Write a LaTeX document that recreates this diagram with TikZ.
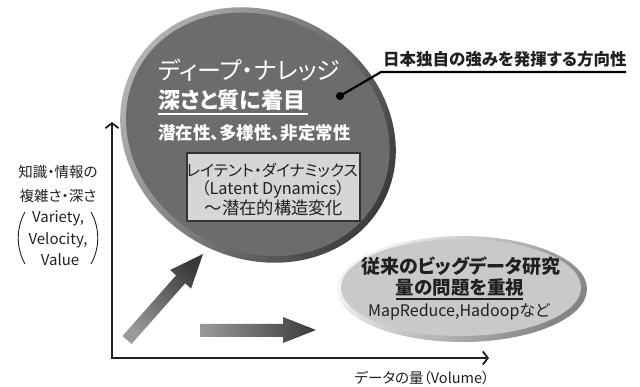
\documentclass[tikz,border=0pt]{standalone}
\usepackage{fontspec}
\setmainfont{Noto Sans CJK JP}[RawFeature=+palt]
\usetikzlibrary{arrows.meta}
\newcommand\fsz[1]{\fontsize{#1}{#1}\selectfont}
\definecolor{bigin}{HTML}{6C6C6C}
\definecolor{biglight}{HTML}{B8B8B8}
\definecolor{bigdark}{HTML}{3A3A3A}
\definecolor{smin}{HTML}{C9C9C9}
\definecolor{smlight}{HTML}{F2F2F2}
\definecolor{smdark}{HTML}{858585}
\definecolor{boxfill}{HTML}{D6D6D6}
\definecolor{boxline}{HTML}{333333}
\definecolor{axisc}{HTML}{231F20}
\definecolor{arrlight}{HTML}{9A9A9A}
\definecolor{arrdark}{HTML}{3A3A3A}
\begin{document}
\begin{tikzpicture}[x=1pt,y=-1pt,
  wt/.style={text=white, inner sep=0pt},
  bt/.style={text=axisc, inner sep=0pt},
  barb/.tip={Straight Barb[length=5pt,width=13pt]}]
\useasboundingbox (0,0) rectangle (640,387);
% axes
\coordinate (Ytop) at (112,122);
\coordinate (O) at (112,358);
\coordinate (Xend) at (489,358);
\draw[line width=1.8pt, color=axisc, barb-barb] (Ytop) -- (O) -- (Xend);
% small ellipse
\coordinate (sc) at (462,289);
\shade[top color=smlight, bottom color=smdark, shading angle=50] (sc) ellipse [x radius=125pt, y radius=53pt];
\fill[smin] (461,287.5) ellipse [x radius=120pt, y radius=48.5pt];
% big ellipse
\coordinate (bc) at (258,135);
\begin{scope}[rotate around={-29:(bc)}]
\shade[top color=biglight, bottom color=bigdark, shading angle=60] (bc) ellipse [x radius=142pt, y radius=123pt];
\fill[bigin] (257.5,134.5) ellipse [x radius=136pt, y radius=117pt];
\end{scope}
% block arrows
\shade[top color=arrlight, bottom color=arrdark, shading angle=135]
  (131.5,344.0) -- (122.5,336.0) -- (176.1,275.3) -- (170.1,270.0) -- (203,254)
  -- (191.1,288.6) -- (185.1,283.3) -- cycle;
\shade[left color=arrlight, right color=arrdark]
  (200,324) -- (283,324) -- (283,317) -- (316,330) -- (283,343) -- (283,337) -- (200,337) -- cycle;
% big ellipse texts
\node[wt, anchor=west, font=\fsz{24}] (t1) at (158,70) {ディープ・ナレッジ};
\node[wt, anchor=west, font=\fsz{22}\bfseries] (t2) at (158,100) {深さと質に着目};
\draw[white, line width=2pt] (158,114) coordinate (u1) -- (308,114) coordinate (u2);
\node[wt, anchor=west, font=\fsz{17.5}\bfseries] (t3) at (158,133) {潜在性、多様性、非定常性};
\node[draw=boxline, fill=boxfill, line width=2pt, minimum width=173pt, minimum height=68pt, inner sep=0pt] (box) at (273.5,187) {};
\node[bt, font=\fsz{15.7}] (b1) at (272,170) {レイテント・ダイナミックス};
\node[bt, font=\fsz{16.3}] (b2) at (273,189) {（Latent Dynamics）};
\node[bt, font=\fsz{17.3}] (b3) at (274,208) {～潜在的構造変化};
% leader
\node[circle, fill=black, inner sep=0pt, minimum size=8pt] (dot) at (340,96) {};
\coordinate (bend) at (381,72);
\coordinate (lend) at (626,72);
\draw[black, line width=2.2pt] (dot.center) -- (bend) -- (lend);
\node[bt, anchor=west, font=\fsz{16.5}\bfseries] (lead) at (383,59) {日本独自の強みを発揮する方向性};
% small ellipse texts
\node[bt, font=\fsz{19}\bfseries] (s1) at (461,266) {従来のビッグデータ研究};
\node[bt, font=\fsz{18.5}\bfseries] (s2) at (460,288) {量の問題を重視};
\draw[axisc, line width=2pt] (396,299) coordinate (u3) -- (523,299) coordinate (u4);
\node[bt, font=\fsz{16}] (s3) at (459,312) {MapReduce,Hadoopなど};
% axis labels
\node[bt, font=\fsz{14.5}] (xl) at (422,378) {データの量（Volume）};
\node[bt, font=\fsz{14.5}] (y1) at (58,172) {知識・情報の};
\node[bt, font=\fsz{14.5}] (y2) at (58,196) {複雑さ・深さ};
\node[bt, font=\fsz{15}] (y3) at (58,218) {Variety,};
\node[bt, font=\fsz{15}] (y4) at (58,240) {Velocity,};
\node[bt, font=\fsz{15}] (y5) at (60,260) {Value};
\draw[axisc, line width=0.9pt] (25,212) .. controls (16,228) and (16,248) .. (25,264);
\draw[axisc, line width=0.9pt] (91,212) .. controls (100,228) and (100,248) .. (91,264);
\end{tikzpicture}
\end{document}
